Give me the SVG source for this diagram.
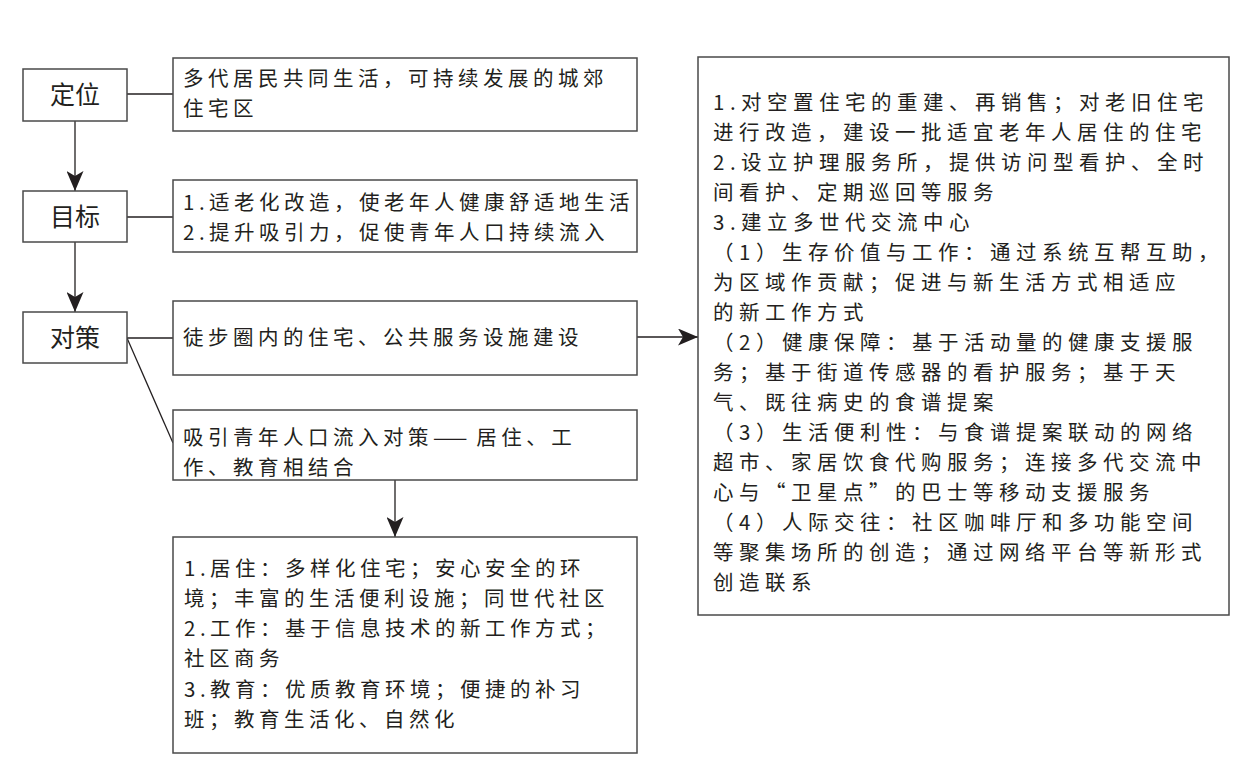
<svg xmlns="http://www.w3.org/2000/svg" width="1248" height="768" viewBox="0 0 1248 768">
<style>
.box{fill:#fff;stroke:#4a4a4a;stroke-width:1.5}
.t{font-family:"Noto Sans CJK SC","Noto Sans",sans-serif;font-size:20.5px;letter-spacing:4.5px;fill:#231f20}
.r{letter-spacing:5.5px}
.lbl{font-family:"Noto Sans CJK SC","Noto Sans",sans-serif;font-size:25px;fill:#231f20;text-anchor:middle}
.ln{stroke:#231f20;stroke-width:1.3;fill:none}
</style>
<defs>
<marker id="ah" markerWidth="20" markerHeight="17" refX="20" refY="8.5" orient="auto" markerUnits="userSpaceOnUse">
<path d="M0,0 L20,8.5 L0,17 L5,8.5 Z" fill="#231f20"/>
</marker>
</defs>
<rect width="1248" height="768" fill="#fff"/>
<g id="connectors">
<line class="ln" x1="127" y1="94" x2="173" y2="94"/>
<line class="ln" x1="127" y1="217" x2="173" y2="217"/>
<line class="ln" x1="127" y1="338" x2="173" y2="338"/>
<line class="ln" x1="127" y1="338" x2="173" y2="443"/>
<line class="ln" x1="75" y1="121" x2="75" y2="191" marker-end="url(#ah)"/>
<line class="ln" x1="75" y1="242" x2="75" y2="312" marker-end="url(#ah)"/>
<line class="ln" x1="637" y1="337" x2="698" y2="337" marker-end="url(#ah)"/>
<line class="ln" x1="395" y1="480" x2="395" y2="537" marker-end="url(#ah)"/>
</g>
<g id="dingwei"><rect class="box" x="23" y="69" width="104" height="52"/><text class="lbl" x="75" y="104">定位</text></g>
<g id="mubiao"><rect class="box" x="23" y="191" width="104" height="51"/><text class="lbl" x="75" y="226">目标</text></g>
<g id="duice"><rect class="box" x="23" y="312" width="104" height="51"/><text class="lbl" x="75" y="347">对策</text></g>
<g id="pos-text"><rect class="box" x="173" y="58" width="464" height="73"/>
<text class="t" x="183" y="86">多代居民共同生活，可持续发展的城郊</text>
<text class="t" x="183" y="116">住宅区</text></g>
<g id="goal-text"><rect class="box" x="173" y="180" width="464" height="72"/>
<text class="t" x="183" y="210">1.适老化改造，使老年人健康舒适地生活</text>
<text class="t" x="183" y="240">2.提升吸引力，促使青年人口持续流入</text></g>
<g id="walk"><rect class="box" x="173" y="301" width="464" height="74"/>
<text class="t" x="183" y="345">徒步圈内的住宅、公共服务设施建设</text></g>
<g id="young"><rect class="box" x="173" y="410" width="464" height="70"/>
<text class="t" x="183" y="445">吸引青年人口流入对策<tspan style="letter-spacing:0">——</tspan><tspan dx="9">居住、工</tspan></text>
<text class="t" x="183" y="475">作、教育相结合</text></g>
<g id="young-detail"><rect class="box" x="173" y="537" width="464" height="216"/>
<text class="t" x="184" y="576">1.居住：多样化住宅；安心安全的环</text>
<text class="t" x="184" y="606">境；丰富的生活便利设施；同世代社区</text>
<text class="t" x="184" y="636">2.工作：基于信息技术的新工作方式；</text>
<text class="t" x="184" y="666">社区商务</text>
<text class="t" x="184" y="697">3.教育：优质教育环境；便捷的补习</text>
<text class="t" x="184" y="727">班；教育生活化、自然化</text></g>
<g id="measures"><rect class="box" x="698" y="57" width="531" height="558"/>
<text class="t r" x="713" y="110">1.对空置住宅的重建、再销售；对老旧住宅</text>
<text class="t r" x="713" y="140">进行改造，建设一批适宜老年人居住的住宅</text>
<text class="t r" x="713" y="170">2.设立护理服务所，提供访问型看护、全时</text>
<text class="t r" x="713" y="200">间看护、定期巡回等服务</text>
<text class="t r" x="713" y="230">3.建立多世代交流中心</text>
<text class="t r" x="713" y="260">（1）生存价值与工作：通过系统互帮互助，</text>
<text class="t r" x="713" y="290">为区域作贡献；促进与新生活方式相适应</text>
<text class="t r" x="713" y="320">的新工作方式</text>
<text class="t r" x="713" y="350">（2）健康保障：基于活动量的健康支援服</text>
<text class="t r" x="713" y="380">务；基于街道传感器的看护服务；基于天</text>
<text class="t r" x="713" y="410">气、既往病史的食谱提案</text>
<text class="t r" x="713" y="440">（3）生活便利性：与食谱提案联动的网络</text>
<text class="t r" x="713" y="470">超市、家居饮食代购服务；连接多代交流中</text>
<text class="t r" x="713" y="500">心与“卫星点”的巴士等移动支援服务</text>
<text class="t r" x="713" y="530">（4）人际交往：社区咖啡厅和多功能空间</text>
<text class="t r" x="713" y="560">等聚集场所的创造；通过网络平台等新形式</text>
<text class="t r" x="713" y="590">创造联系</text></g>
</svg>
